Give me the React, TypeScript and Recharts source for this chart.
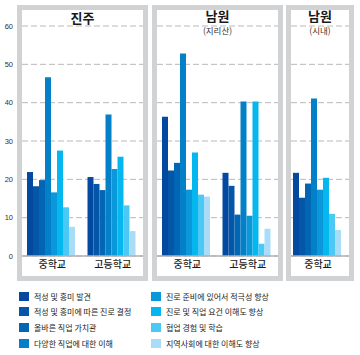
import React from "react";
import { BarChart, Bar, XAxis, YAxis, CartesianGrid } from "recharts";

// legend labels, one per series
const seriesNames = [
  "적성 및 흥미 발견",
  "적성 및 흥미에 따른 진로 결정",
  "올바른 직업 가치관",
  "다양한 직업에 대한 이해",
  "진로 준비에 있어서 적극성 향상",
  "진로 및 직업 요건 이해도 향상",
  "협업 경험 및 학습",
  "지역사회에 대한 이해도 향상",
];
const seriesColors = [
  "#0349a0",
  "#0456a9",
  "#0366b4",
  "#0480c8",
  "#0a98da",
  "#04b7ee",
  "#4cc8f4",
  "#a9ddf7",
];

const schoolLevels = ["중학교", "고등학교"];
const yTicks = [0, 10, 20, 30, 40, 50, 60];

// percent values
const jinjuMiddle = [21.9, 18.2, 19.8, 46.6, 16.6, 27.5, 12.7, 7.6];
const jinjuHigh = [20.6, 18.8, 17.2, 36.9, 22.7, 25.9, 13.2, 6.5];
const jirisanMiddle = [36.3, 22.3, 24.3, 52.8, 17.3, 27.0, 16.0, 15.5];
const jirisanHigh = [21.7, 18.3, 10.8, 40.3, 10.5, 40.3, 3.2, 7.1];
const cityMiddle = [21.7, 15.2, 18.9, 41.1, 17.3, 20.4, 11.0, 6.8];

const FONT = "'Noto Sans CJK KR', 'Noto Sans', sans-serif";
const BORDER = "#d1d2d3";
const CHART_H = 281;

type Row = { name: string; [key: string]: string | number };

function toRows(names: string[], groups: number[][]): Row[] {
  return groups.map((vals, i) => {
    const row: Row = { name: names[i] };
    vals.forEach((v, j) => (row["s" + j] = v));
    return row;
  });
}

interface PanelProps {
  left: number;
  width: number;
  title: string;
  subtitle?: string;
  rows: Row[];
  showAxis?: boolean;
  padRight?: number;
  catGap: number;
}

function Panel({ left, width, title, subtitle, rows, showAxis, padRight = 0, catGap }: PanelProps) {
  const axisW = showAxis ? 22 : 0;
  const boxLeft = showAxis ? 17 : left;
  const boxWidth = left + width - boxLeft;
  return (
    <>
      <div style={{ position: "absolute", left, top: 0 }}>
        <BarChart
          width={width}
          height={CHART_H}
          data={rows}
          margin={{ top: 26, right: 5, bottom: 5, left: showAxis ? 0 : 5 }}
          barGap={0}
          barCategoryGap={catGap}
        >
          <CartesianGrid vertical={false} stroke="#b9b9b9" strokeDasharray="6 3" />
          <XAxis
            dataKey="name"
            height={20}
            tickSize={0}
            tickMargin={5}
            padding={{ left: 0, right: padRight }}
            axisLine={{ stroke: "#b0b0b0", strokeWidth: 1.5 }}
            tickLine={false}
            tick={{ fontSize: 10, fill: "#1a1a1a", fontFamily: FONT, fontWeight: 500 }}
          />
          <YAxis
            domain={[0, 60]}
            ticks={yTicks}
            hide={!showAxis}
            width={axisW}
            tickSize={0}
            tickMargin={9}
            axisLine={false}
            tickLine={false}
            tick={{ fontSize: 7.5, fill: "#333", fontFamily: "'Liberation Sans', Arial, sans-serif" }}
          />
          {seriesNames.map((n, i) => (
            <Bar key={n} dataKey={"s" + i} name={n} fill={seriesColors[i]} isAnimationActive={false} />
          ))}
        </BarChart>
      </div>
      <div
        style={{
          position: "absolute",
          left: boxLeft,
          top: 5,
          width: boxWidth,
          height: 276,
          border: `5px solid ${BORDER}`,
          boxSizing: "border-box",
          pointerEvents: "none",
        }}
      />
      <div
        style={{
          position: "absolute",
          left: boxLeft,
          width: boxWidth,
          top: subtitle ? 9 : 11,
          textAlign: "center",
          fontFamily: FONT,
          color: "#1a1a1a",
          lineHeight: 1,
        }}
      >
        <div style={{ fontSize: 13, fontWeight: 700 }}>{title}</div>
        {subtitle && <div style={{ fontSize: 8.5, marginTop: 4, color: "#333" }}>{subtitle}</div>}
      </div>
    </>
  );
}

function LegendBox() {
  return (
    <div style={{ position: "absolute", left: 19, top: 290, fontFamily: FONT, fontSize: 8, color: "#222" }}>
      {seriesNames.map((n, i) => {
        const col = i < 4 ? 0 : 1;
        const row = i % 4;
        return (
          <div
            key={n}
            style={{
              position: "absolute",
              left: col * 132,
              top: row * 15.7,
              display: "flex",
              alignItems: "center",
              whiteSpace: "nowrap",
              height: 12,
            }}
          >
            <span style={{ width: 10, height: 9, background: seriesColors[i], marginRight: 5, display: "inline-block" }} />
            <span>{n}</span>
          </div>
        );
      })}
    </div>
  );
}

export default function App() {
  return (
    <div style={{ position: "relative", width: 360, height: 355, background: "#fff", overflow: "hidden" }}>
      <style>{"body{margin:0}"}</style>
      <Panel left={0} width={148} title="진주" rows={toRows(schoolLevels, [jinjuMiddle, jinjuHigh])} showAxis catGap={5} />
      <Panel
        left={152}
        width={131}
        title="남원"
        subtitle="(지리산)"
        rows={toRows(schoolLevels, [jirisanMiddle, jirisanHigh])}
        catGap={5}
      />
      <Panel
        left={286}
        width={68}
        title="남원"
        subtitle="(시내)"
        rows={toRows(["중학교"], [cityMiddle])}
        padRight={4}
        catGap={2}
      />
      <LegendBox />
    </div>
  );
}
